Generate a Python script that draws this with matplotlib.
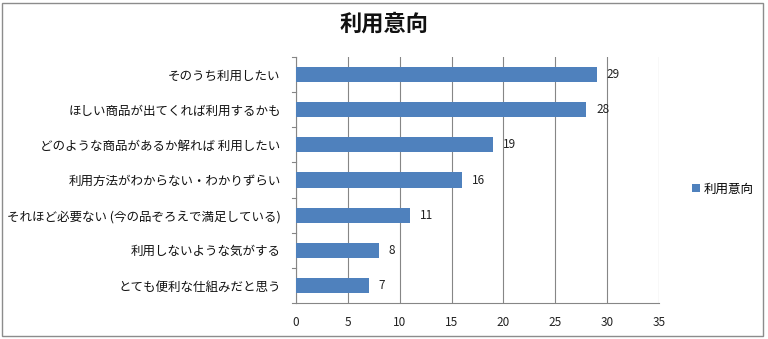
import matplotlib
matplotlib.use("Agg")
import matplotlib.pyplot as plt
from matplotlib.patches import Rectangle

plt.rcParams['font.family'] = ['Noto Sans CJK JP', 'DejaVu Sans']

title = "利用意向"
series_name = "利用意向"
categories = [
    "そのうち利用したい",
    "ほしい商品が出てくれば利用するかも",
    "どのような商品があるか解れば 利用したい",
    "利用方法がわからない・わかりずらい",
    "それほど必要ない (今の品ぞろえで満足している)",
    "利用しないような気がする",
    "とても便利な仕組みだと思う",
]
values = [29, 28, 19, 16, 11, 8, 7]
xticks = [0, 5, 10, 15, 20, 25, 30, 35]

bar_color = "#4f81bd"
grid_color = "#868686"

W, H = 768, 339
fig = plt.figure(figsize=(W / 100, H / 100), dpi=100)
fig.patch.set_facecolor("white")

# outer chart frame
fig.add_artist(Rectangle((2 / W, 3 / H), 761 / W, 333 / H, transform=fig.transFigure,
                         fill=False, edgecolor="#8c8c8c", linewidth=1.0))

left, right, top, bottom = 296, 659, 57, 303
ax = fig.add_axes([left / W, 1 - bottom / H, (right - left) / W, (bottom - top) / H])

n = len(categories)
ypos = list(range(n))
bars = ax.barh(ypos, values, height=0.43, color=bar_color, zorder=3, label=series_name)
ax.set_ylim(n - 0.5, -0.5)
ax.set_xlim(xticks[0], xticks[-1])
ax.set_xticks(xticks)
ax.set_xticklabels([str(t) for t in xticks], fontsize=8.5, color="#222222")
ax.tick_params(axis="x", length=0, pad=9)

ax.set_yticks(ypos)
ax.set_yticklabels(categories, fontsize=9, color="#111111")
ax.tick_params(axis="y", length=0, pad=11)
# category separator tick marks
for b in [i - 0.5 for i in range(n + 1)]:
    ax.plot([-0.012, 0], [b, b], transform=ax.get_yaxis_transform(), color=grid_color,
            linewidth=0.8, clip_on=False)

ax.grid(axis="x", color=grid_color, linewidth=0.8, zorder=0)
for side in ["top", "right"]:
    ax.spines[side].set_visible(False)
for side in ["left", "bottom"]:
    ax.spines[side].set_color(grid_color)
    ax.spines[side].set_linewidth(0.8)

for y, v in zip(ypos, values):
    ax.annotate(str(v), (v, y), xytext=(7, 0), textcoords="offset points",
                va="center", ha="left", fontsize=8.5, color="#222222")

fig.text(384 / W, 1 - 24 / H, title, ha="center", va="center", fontsize=16,
         fontweight="bold", color="#111111")

fig.legend(handles=[bars], labels=[series_name], loc="center left",
           bbox_to_anchor=(686 / W, 1 - 189 / H), frameon=False, fontsize=9,
           handlelength=0.6, handleheight=0.6, handletextpad=0.3, borderpad=0)

fig.savefig("out.png", dpi=100, facecolor="white")
